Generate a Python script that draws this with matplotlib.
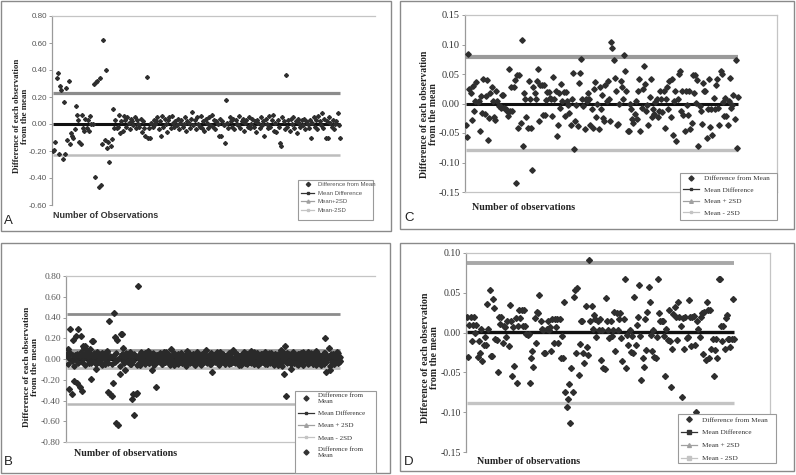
import matplotlib
matplotlib.use("Agg")
import matplotlib.pyplot as plt
from matplotlib.lines import Line2D
from matplotlib.patches import Rectangle

W, H = 796, 475
SANS = "Liberation Sans"
SERIF = "Liberation Serif"

# ---- panel A ----
a_diff = [
    -0.20, -0.195, -0.136, 0.34, 0.38, -0.22, 0.28, 0.25, -0.26, 0.16,
    -0.22, 0.27, -0.12, 0.32, -0.15, -0.07, -0.09, -0.10, -0.04, 0.13,
    0.07, 0.03, -0.13, -0.15, 0.07, -0.03, -0.05, 0.04, -0.03, 0.03,
    -0.05, 0.06, 0.00, 0.00, 0.30, -0.39, 0.31, 0.32, -0.47, 0.34,
    -0.45, -0.15, 0.62, -0.12, 0.40, -0.18, -0.13, -0.28, -0.16, -0.11,
    0.11, -0.03, 0.03, -0.03, -0.02, 0.07, -0.07,
    0.02, -0.05, 0.06, 0.03, -0.02, 0.05, 0.01, -0.04, 0.04, 0.02,
    -0.01, 0.05, -0.03, 0.03, 0.00, -0.02, 0.04, -0.06, 0.02, -0.03,
    -0.09, 0.35, -0.10, -0.03, -0.10, 0.01, -0.02, 0.03, 0.00, 0.02,
    0.05, -0.04, 0.02, -0.09, 0.06, -0.02, 0.04, 0.00, -0.06, 0.03,
    0.05, -0.03, 0.06, 0.01, -0.02, 0.02, -0.01, 0.04, -0.04, 0.01,
    0.03, -0.02, 0.00, 0.05, -0.05, 0.02, 0.01, -0.03, 0.04, 0.09,
    -0.01, 0.03, -0.04, 0.05, 0.00, -0.02, 0.06, -0.03, 0.02, -0.05,
    0.04, 0.01, -0.03, 0.05, -0.01, 0.07, -0.02, 0.03, -0.04, 0.02,
    0.00, -0.09, 0.04, -0.09, 0.02, -0.01, -0.14, 0.18, 0.01, -0.03,
    0.05, 0.02, -0.02, 0.04, -0.04, 0.03, 0.00, -0.01, 0.06, -0.03,
    0.02, 0.04, -0.05, 0.01, 0.03, -0.02, 0.05, -0.03, 0.00, 0.04,
    -0.02, 0.02, -0.06, 0.03, 0.01, -0.03, 0.05, -0.01, 0.02, -0.09,
    0.04, 0.00, -0.03, 0.06, -0.02, 0.03, 0.07, -0.05, 0.01, -0.06,
    0.03, -0.02, -0.14, -0.16, 0.05, 0.02, -0.04, 0.36, -0.02, 0.03,
    -0.05, 0.04, 0.00, 0.05, -0.03, 0.02, -0.07, 0.04, 0.01, -0.02,
    0.03, -0.01, 0.04, -0.04, 0.02, 0.00, -0.03, 0.03, -0.10, 0.01,
    0.05, -0.02, 0.03, -0.04, 0.06, 0.02, -0.01, 0.08, -0.03, 0.04,
    -0.10, 0.02, -0.10, 0.05, 0.01, -0.02, 0.03, -0.04, 0.00, 0.02,
    0.08, -0.01, -0.10,
]
a_mean = 0.0
a_upper = 0.23
a_lower = -0.23
a_ticks = [0.80, 0.60, 0.40, 0.20, 0.00, -0.20, -0.40, -0.60]

# ---- panel C ----
c_diff = [
    -0.037, -0.057, 0.084, 0.024, 0.018, -0.028, 0.029, -0.013, 0.004, 0.037,
    0.002, 0.004, -0.047, 0.012, -0.016, 0.042, -0.018, 0.012, 0.039, -0.062,
    -0.024, 0.018, 0.028, 0.004, -0.023, -0.028, 0.021, 0.004, -0.005, -0.005,
    -0.007, 0.014, 0.014, -0.008, -0.010, -0.012, -0.021, 0.059, -0.012, 0.028,
    -0.013, 0.028, 0.039, -0.134, 0.048, -0.042, 0.048, -0.033, 0.108, -0.072,
    0.018, 0.007, -0.023, -0.042, 0.038, 0.007, -0.042, -0.113, 0.028, 0.018,
    0.007, 0.038, 0.058, -0.029, 0.032, 0.031, -0.019, 0.032, -0.019, 0.006,
    0.020, 0.020, 0.010, 0.008, -0.021, 0.045, 0.008, 0.021, -0.055, -0.036,
    0.018, -0.008, 0.033, 0.004, 0.020, -0.021, 0.020, 0.004, -0.002, -0.016,
    -0.037, 0.008, 0.052, -0.077, -0.030, -0.002, -0.038, 0.035, 0.052, 0.075,
    0.007, -0.005, -0.044, 0.008, 0.004, 0.018, 0.008, -0.036, -0.010, -0.041,
    0.024, 0.037, -0.023, -0.001, -0.043, 0.028, -0.010, 0.014, -0.024, -0.029,
    0.031, 0.004, 0.038, 0.007, -0.029, 0.104, 0.094, 0.073, 0.044, 0.022,
    -0.036, -0.034, -0.001, 0.038, 0.028, 0.007, 0.083, 0.055, 0.021, -0.047,
    -0.047, -0.001, -0.010, -0.026, -0.033, -0.018, 0.005, -0.027, 0.022, 0.041,
    -0.047, -0.008, 0.024, 0.063, 0.033, -0.013, -0.002, -0.037, 0.011, 0.042,
    -0.023, -0.010, -0.018, 0.003, 0.008, -0.023, -0.012, 0.022, 0.008, -0.014,
    0.022, -0.042, 0.008, 0.028, -0.010, 0.038, -0.023, 0.041, -0.053, 0.004,
    0.021, -0.064, 0.007, 0.050, 0.055, -0.013, 0.022, -0.019, -0.047, 0.022,
    -0.002, -0.019, 0.021, -0.044, -0.033, 0.048, 0.018, 0.049, 0.001, 0.039,
    -0.072, -0.005, -0.013, -0.034, 0.035, 0.021, 0.021, -0.058, -0.010, 0.041,
    -0.040, -0.010, -0.053, 0.010, -0.010, 0.032, 0.041, -0.008, -0.036, 0.055,
    0.050, 0.003, -0.021, 0.010, -0.021, -0.036, 0.004, 0.044, -0.008, -0.003,
    0.014, -0.027, 0.073, -0.076, 0.011,
]
c_mean = 0.0
c_upper = 0.078
c_lower = -0.079
c_ticks = [0.15, 0.10, 0.05, 0.00, -0.05, -0.10, -0.15]

# ---- panel B (two series) ----
b_diff1 = [
    0.05, 0.10, -0.29, 0.29, -0.34, 0.18, -0.21, 0.04, 0.22, -0.23,
    0.29, -0.27, 0.22, -0.31, 0.13, 0.11, 0.13, 0.06, 0.08, -0.04,
    0.10, -0.19, 0.17, 0.17, 0.03, -0.10, 0.07, -0.03, 0.05, 0.02,
    -0.04, 0.06, 0.01, -0.05, 0.03, 0.08, -0.32, 0.37, -0.34, -0.36,
    -0.23, 0.44, 0.21, -0.62, 0.18, -0.64, -0.14, 0.24, 0.24, 0.11,
    0.03, -0.11, 0.05, -0.02, 0.04, 0.07, -0.05, -0.39, -0.34, -0.54,
    -0.34, -0.33, 0.70, 0.02, -0.06, 0.04, 0.01, -0.03, 0.06, -0.02,
    0.03, 0.08, -0.04, 0.02, -0.11, 0.05, -0.01, 0.03, -0.27, 0.04,
    -0.02, 0.06, 0.01, -0.05, 0.03, 0.07, -0.03, 0.02, 0.05, -0.04,
    0.01, 0.10, -0.02, 0.04, -0.06, 0.03, 0.00, 0.05, -0.03, 0.02,
    0.06, -0.04, 0.01, 0.03, -0.05, 0.08, -0.02, 0.04, 0.00, -0.03,
    0.05, 0.02, -0.06, 0.03, 0.07, -0.01, 0.02, -0.04, 0.05, 0.01,
    -0.03, 0.04, 0.09, -0.02, 0.03, -0.05, 0.06, -0.13, 0.02, 0.04,
    -0.01, 0.05, -0.04, 0.02, 0.07, -0.03, 0.01, 0.04, -0.05, 0.03,
    0.00, -0.02, 0.06, 0.02, -0.04, 0.09, 0.01, -0.03, 0.05, -0.01,
    0.03, -0.06, 0.04, 0.02, -0.02, 0.07, -0.04, 0.01, 0.05, -0.03,
    0.02, 0.08, -0.01, 0.04, -0.05, 0.03, 0.06, -0.02, 0.01, -0.04,
    0.05, 0.02, -0.03, 0.07, 0.00, -0.05, 0.04, 0.01, -0.02, 0.06,
    -0.04, 0.03, 0.05, -0.01, 0.02, -0.06, 0.04, 0.09, -0.03, 0.01,
    -0.14, 0.13, -0.36, 0.06, -0.02, 0.04, -0.10, 0.03, 0.07, -0.04,
    0.02, -0.05, 0.05, 0.01, -0.03, 0.06, 0.00, -0.06, 0.04, 0.02,
    -0.02, 0.07, -0.04, 0.03, 0.01, -0.05, 0.05, -0.01, 0.08, -0.03,
    0.02, 0.04, -0.06, 0.03, -0.02, 0.06, 0.20, -0.13, 0.01, 0.11,
    -0.11, 0.04, -0.03, 0.05, -0.05, 0.02, 0.07, -0.04, 0.01, -0.02,
]
b_diff2 = [
    0.03, -0.05, 0.01, 0.06, -0.02, 0.04, -0.07, 0.02, -0.01, 0.05,
    -0.04, 0.02, 0.07, -0.03, 0.00, 0.04, -0.06, 0.03, 0.01, -0.02,
    0.05, -0.04, 0.02, -0.01, 0.06, -0.05, 0.03, 0.00, -0.03, 0.04,
    0.01, -0.06, 0.05, 0.02, -0.02, 0.07, -0.04, 0.01, 0.03, -0.05,
    0.02, 0.04, -0.03, 0.06, -0.01, 0.00, -0.07, 0.03, 0.05, -0.02,
    -0.04, 0.01, 0.06, -0.03, 0.02, -0.05, 0.04, 0.00, -0.02, 0.05,
    0.03, -0.06, 0.01, 0.04, -0.03, 0.07, -0.01, 0.02, -0.05, 0.03,
    0.00, 0.05, -0.04, 0.02, -0.02, 0.06, -0.06, 0.01, 0.04, -0.03,
    0.02, -0.01, 0.05, -0.05, 0.03, 0.00, -0.03, 0.07, -0.02, 0.04,
    -0.06, 0.01, 0.03, -0.04, 0.06, -0.01, 0.02, -0.05, 0.04, 0.00,
    0.05, -0.03, 0.01, 0.04, -0.07, 0.02, -0.02, 0.06, -0.04, 0.03,
    0.01, -0.05, 0.04, 0.00, -0.03, 0.05, 0.02, -0.06, 0.03, -0.01,
    0.06, -0.02, 0.03, -0.04, 0.01, 0.05, -0.05, 0.02, -0.01, 0.04,
    -0.03, 0.07, 0.00, -0.06, 0.03, 0.01, -0.02, 0.05, -0.04, 0.02,
    0.04, -0.01, -0.05, 0.03, 0.06, -0.03, 0.01, -0.04, 0.02, 0.05,
    -0.02, 0.03, -0.06, 0.04, 0.00, -0.03, 0.06, 0.01, -0.05, 0.02,
    0.05, -0.04, 0.02, -0.01, 0.07, -0.02, 0.03, -0.06, 0.04, 0.00,
    -0.03, 0.05, 0.01, -0.05, 0.02, 0.04, -0.02, 0.06, -0.04, 0.01,
    0.03, -0.06, 0.04, 0.00, -0.03, 0.05, -0.01, 0.02, -0.07, 0.03,
    0.06, -0.02, 0.01, -0.04, 0.05, 0.02, -0.05, 0.03, 0.00, -0.03,
    0.04, 0.01, -0.06, 0.05, -0.02, 0.03, -0.04, 0.07, 0.00, -0.01,
    0.02, -0.05, 0.04, -0.03, 0.06, 0.01, -0.02, 0.03, -0.06, 0.05,
    -0.01, 0.04, -0.04, 0.02, 0.00, -0.05, 0.06, -0.03, 0.03, 0.01,
    -0.07, 0.05, 0.02, -0.02, 0.04, -0.04, 0.01, 0.06, -0.03, 0.02,
]
b_mean = 0.0
b_upper1 = 0.43
b_lower1 = -0.43
b_upper2 = 0.085
b_lower2 = -0.085
b_ticks = [0.80, 0.60, 0.40, 0.20, 0.00, -0.20, -0.40, -0.60, -0.80]

# ---- panel D ----
d_diff = [
    0.019, -0.031, 0.009, 0.019, -0.011, 0.009, 0.019, 0.000, 0.009, -0.031,
    -0.010, -0.025, 0.005, -0.036, -0.016, -0.006, -0.016, 0.036, 0.005, 0.054,
    -0.029, -0.029, 0.042, 0.031, -0.008, -0.009, -0.050, 0.020, 0.011, 0.020,
    -0.013, 0.008, 0.007, -0.006, 0.015, -0.017, 0.035, 0.015, -0.055, 0.007,
    -0.042, 0.018, -0.063, 0.008, 0.028, 0.018, 0.028, 0.008, 0.028, 0.008,
    -0.002, -0.003, -0.002, -0.063, -0.032, -0.023, -0.043, 0.018, -0.013, 0.026,
    0.024, 0.047, 0.014, 0.004, 0.003, -0.026, -0.026, 0.004, 0.015, 0.003,
    0.007, -0.023, 0.017, -0.013, 0.017, 0.007, 0.017, -0.013, 0.017, -0.032,
    -0.004, -0.032, 0.038, -0.074, -0.094, -0.084, -0.064, -0.113, -0.044, -0.074,
    0.045, 0.054, -0.025, 0.056, -0.053, -0.014, 0.015, 0.015, -0.025, -0.038,
    0.033, -0.018, -0.028, 0.091, 0.015, 0.033, 0.004, 0.022, 0.017, -0.006,
    0.015, 0.003, 0.017, -0.034, 0.003, -0.045, -0.046, 0.044, 0.014, 0.003,
    -0.007, 0.014, -0.004, 0.003, 0.026, -0.023, 0.024, 0.003, 0.017, 0.024,
    -0.007, -0.036, 0.017, 0.067, -0.044, -0.003, -0.015, 0.003, -0.024, -0.004,
    -0.026, 0.045, -0.016, 0.010, 0.020, 0.060, -0.004, -0.060, -0.032, -0.043,
    0.017, -0.022, 0.026, 0.057, 0.038, -0.003, -0.023, 0.003, -0.031, -0.032,
    -0.006, 0.067, 0.024, 0.015, 0.015, 0.015, -0.004, -0.055, 0.005, -0.009,
    0.029, -0.010, -0.068, -0.021, 0.023, 0.032, 0.020, -0.009, 0.039, 0.019,
    0.008, -0.081, 0.018, -0.021, 0.020, -0.007, -0.006, 0.041, 0.020, -0.017,
    0.019, 0.021, -0.016, -0.100, 0.014, 0.005, -0.006, 0.020, 0.024, -0.027,
    0.026, -0.034, 0.039, 0.029, -0.032, 0.029, -0.021, -0.008, -0.054, -0.022,
    -0.008, -0.032, 0.067, 0.067, 0.008, -0.010, 0.008, -0.021, 0.018, 0.022,
    -0.008, -0.008, -0.018, -0.008, 0.042, -0.008,
]
d_mean = 0.001
d_upper = 0.088
d_lower = -0.089
d_ticks = [0.10, 0.05, 0.00, -0.05, -0.10, -0.15]

ylabel_text = "Difference of each observation\nfrom the mean"


def px_axes(fig, left, top, right, bottom):
    return fig.add_axes([left / W, 1 - bottom / H, (right - left) / W, (bottom - top) / H])


def fit_x(ax, n, left, right, first, last):
    # place observation 0 at pixel `first` and the last one at pixel `last`
    step = (last - first) / (n - 1)
    ax.set_xlim(-(first - left) / step, n - 1 + (right - last) / step)


def style_axes(ax, ticks, family, size, color, frame):
    ax.set_ylim(ticks[-1], ticks[0])
    ax.set_yticks(ticks)
    ax.set_yticklabels(["%.2f" % t for t in ticks], family=family, fontsize=size, color=color)
    ax.set_xticks([])
    ax.tick_params(axis="y", length=2.5, width=0.6, color="#8c8c8c", pad=1.2)
    for side, spine in ax.spines.items():
        spine.set_color("#c4c4c4")
        spine.set_linewidth(0.9)
        spine.set_visible(side in frame)
    ax.spines["left"].set_color("#9a9a9a")
    ax.set_facecolor("none")


def hline(ax, n, value, color, lw, z=2):
    ax.plot(range(n), [value] * n, color=color, lw=lw, solid_capstyle="butt", zorder=z)


def legend_box(fig, box, handles, labels, family, size, color, spacing):
    x0, y0, x1, y1 = box
    fig.patches.append(Rectangle((x0 / W, 1 - y1 / H), (x1 - x0) / W, (y1 - y0) / H,
                                 transform=fig.transFigure, facecolor="white",
                                 edgecolor="#9a9a9a", lw=0.8, zorder=5))
    leg = fig.legend(handles, labels, loc="upper left",
                     bbox_to_anchor=((x0 + 2) / W, 1 - (y0 + 1) / H),
                     frameon=False, prop={"family": family, "size": size},
                     handlelength=2.2, handletextpad=0.6, labelspacing=spacing,
                     borderaxespad=0, borderpad=0.2)
    leg.set_zorder(6)
    for t in leg.get_texts():
        t.set_color(color)


def handles(ms):
    return [
        Line2D([], [], ls="none", marker="D", ms=ms, color="#333333"),
        Line2D([], [], color="#333333", lw=0.9, marker="s", ms=ms * 0.8),
        Line2D([], [], color="#a0a0a0", lw=0.9, marker="^", ms=ms),
        Line2D([], [], color="#c4c4c4", lw=0.9, marker="s", ms=ms * 0.8),
    ]


fig = plt.figure(figsize=(W / 100, H / 100), dpi=100)

# outer panel boxes
for (x0, y0, x1, y1) in [(1, 1, 391, 231), (400, 1, 794, 229), (1, 243, 390, 473), (400, 243, 794, 471)]:
    fig.patches.append(Rectangle((x0 / W, 1 - y1 / H), (x1 - x0) / W, (y1 - y0) / H,
                                 transform=fig.transFigure, facecolor="none",
                                 edgecolor="#8a8a8a", lw=1.0))

# ---- A ----
ax = px_axes(fig, 52, 16, 375, 205)
n = len(a_diff)
style_axes(ax, a_ticks, SANS, 5.8, "#555555", ["left", "top"])
hline(ax, n, a_upper, "#8c8c8c", 2.3)
hline(ax, n, a_lower, "#bdbdbd", 1.8)
hline(ax, n, a_mean, "#111111", 2.2)
ax.plot(range(n), a_diff, ls="none", marker="D", ms=2.0, color="#2e2e2e", zorder=3)
fit_x(ax, n, 52, 375, 53, 340)
fig.text(21 / W, 1 - 116 / H, ylabel_text, rotation=90, ha="center", va="center",
         family=SERIF, fontweight="bold", fontsize=6.4, color="#222222", linespacing=1.05)
fig.text(53 / W, 1 - 215 / H, "Number of Observations", ha="left", va="center",
         family=SANS, fontweight="bold", fontsize=6.5, color="#333333")
fig.text(4 / W, 1 - 221 / H, "A", ha="left", va="center", family=SANS, fontsize=9.5, color="#222222")
legend_box(fig, (298, 180, 373, 220), handles(2.2),
           ["Difference from Mean", "Mean Difference", "Mean+2SD", "Mean-2SD"],
           SANS, 4.3, "#555555", 0.55)

# ---- C ----
ax = px_axes(fig, 465, 15, 777, 192)
n = len(c_diff)
style_axes(ax, c_ticks, SERIF, 7.4, "#333333", ["left", "top", "right", "bottom"])
hline(ax, n, c_upper, "#9a9a9a", 3.0)
hline(ax, n, c_lower, "#c0c0c0", 2.4)
hline(ax, n, c_mean, "#111111", 2.2)
ax.plot(range(n), c_diff, ls="none", marker="D", ms=2.8, color="#2e2e2e", zorder=3)
fit_x(ax, n, 465, 777, 466, 738)
fig.text(429 / W, 1 - 114 / H, ylabel_text, rotation=90, ha="center", va="center",
         family=SERIF, fontweight="bold", fontsize=7.0, color="#222222", linespacing=1.05)
fig.text(472 / W, 1 - 207 / H, "Number of observations", ha="left", va="center",
         family=SERIF, fontweight="bold", fontsize=7.2, color="#222222")
fig.text(404 / W, 1 - 218 / H, "C", ha="left", va="center", family=SANS, fontsize=9.5, color="#222222")
legend_box(fig, (680, 173, 777, 220), handles(2.6),
           ["Difference from Mean", "Mean Difference", "Mean + 2SD", "Mean - 2SD"],
           SERIF, 5.2, "#333333", 0.75)

# ---- B ----
ax = px_axes(fig, 66, 276, 375, 442)
n = len(b_diff1)
style_axes(ax, b_ticks, SERIF, 6.8, "#555555", ["left", "top", "bottom"])
hline(ax, n, b_upper1, "#8c8c8c", 2.0)
hline(ax, n, b_lower1, "#b8b8b8", 1.8)
hline(ax, n, b_upper2, "#9a9a9a", 2.0)
hline(ax, n, b_lower2, "#bcbcbc", 2.0)
hline(ax, n, b_mean, "#111111", 2.2)
ax.plot(range(n), b_diff2, ls="none", marker="D", ms=2.8, color="#2a2a2a", zorder=3)
ax.plot(range(n), b_diff1, ls="none", marker="D", ms=3.0, color="#2a2a2a", zorder=3)
fit_x(ax, n, 66, 375, 67, 340)
fig.text(31 / W, 1 - 367 / H, ylabel_text, rotation=90, ha="center", va="center",
         family=SERIF, fontweight="bold", fontsize=6.7, color="#222222", linespacing=1.15)
fig.text(74 / W, 1 - 453 / H, "Number of observations", ha="left", va="center",
         family=SERIF, fontweight="bold", fontsize=7.2, color="#222222")
fig.text(4 / W, 1 - 462 / H, "B", ha="left", va="center", family=SANS, fontsize=9.5, color="#222222")
hb = handles(2.6)
legend_box(fig, (295, 391, 376, 473), [hb[0], hb[1], hb[2], hb[3], hb[0]],
           ["Difference from\nMean", "Mean Difference", "Mean + 2SD", "Mean - 2SD", "Difference from\nMean"],
           SERIF, 5.0, "#333333", 0.9)

# ---- D ----
ax = px_axes(fig, 466, 253, 770, 452)
n = len(d_diff)
style_axes(ax, d_ticks, SERIF, 7.0, "#333333", ["left", "top", "right"])
hline(ax, n, d_upper, "#a8a8a8", 2.8)
hline(ax, n, d_lower, "#c4c4c4", 2.4)
hline(ax, n, d_mean, "#111111", 2.4)
ax.plot(range(n), d_diff, ls="none", marker="D", ms=3.0, color="#2e2e2e", zorder=3)
fit_x(ax, n, 466, 770, 467, 734)
fig.text(430 / W, 1 - 358 / H, ylabel_text, rotation=90, ha="center", va="center",
         family=SERIF, fontweight="bold", fontsize=7.2, color="#222222", linespacing=1.0)
fig.text(477 / W, 1 - 462 / H, "Number of observations", ha="left", va="center",
         family=SERIF, fontweight="bold", fontsize=7.2, color="#222222")
fig.text(404 / W, 1 - 462 / H, "D", ha="left", va="center", family=SANS, fontsize=9.5, color="#222222")
legend_box(fig, (678, 414, 776, 463), handles(2.8),
           ["Difference from Mean", "Mean Difference", "Mean + 2SD", "Mean - 2SD"],
           SERIF, 5.2, "#333333", 0.95)

fig.savefig("out.png", dpi=100)
